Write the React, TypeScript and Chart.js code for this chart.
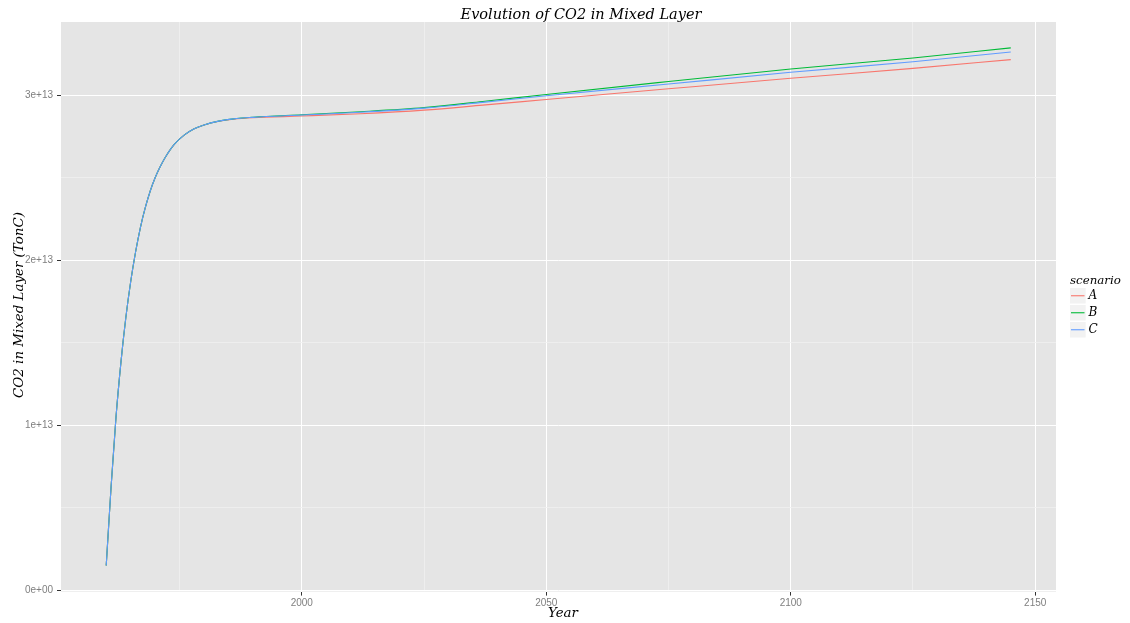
import React, { useEffect, useRef } from "react";
import { Chart, registerables } from "chart.js";

Chart.register(...registerables);

// ---- Data (CO2 in mixed layer, units of 1e13 TonC) ----
const UNIT = 1e13;
const YEARS = [
  1960, 1961, 1962, 1963, 1964, 1965, 1966, 1967, 1968, 1969, 1970, 1971,
  1972, 1974, 1976, 1978, 1980, 1983, 1986, 1990, 2000, 2012, 2025, 2037,
  2050, 2075, 2100, 2125, 2145,
];
const SERIES_A = [
  0.15, 0.63, 1.05, 1.38, 1.65, 1.87, 2.05, 2.2, 2.32, 2.42, 2.5, 2.565,
  2.62, 2.705, 2.76, 2.797, 2.82, 2.842, 2.855, 2.864, 2.874, 2.888, 2.91,
  2.94, 2.974, 3.039, 3.103, 3.163, 3.216,
];
const SERIES_B = [
  0.15, 0.63, 1.05, 1.38, 1.65, 1.87, 2.05, 2.2, 2.32, 2.42, 2.5, 2.565,
  2.62, 2.705, 2.76, 2.797, 2.82, 2.843, 2.857, 2.867, 2.882, 2.9, 2.925,
  2.962, 3.005, 3.083, 3.159, 3.226, 3.287,
];
const SERIES_C = [
  0.15, 0.63, 1.05, 1.38, 1.65, 1.87, 2.05, 2.2, 2.32, 2.42, 2.5, 2.565,
  2.62, 2.705, 2.76, 2.797, 2.82, 2.843, 2.857, 2.866, 2.88, 2.897, 2.922,
  2.957, 2.997, 3.068, 3.139, 3.203, 3.262,
];
const SCENARIOS = ["A", "B", "C"];
const COLORS = ["#F8766D", "#00BA38", "#619CFF"];

const X_TICKS = [1975, 2000, 2025, 2050, 2075, 2100, 2125, 2150];
const X_MAJOR = [2000, 2050, 2100, 2150];
const Y_TICKS = [0, 0.5, 1, 1.5, 2, 2.5, 3];
const Y_MAJOR = [0, 1, 2, 3];
const Y_LABELS = ["0e+00", "1e+13", "2e+13", "3e+13"];

const TITLE = "Evolution of CO2 in Mixed Layer";
const X_TITLE = "Year";
const Y_TITLE = "CO2 in Mixed Layer (TonC)";
const LEGEND_TITLE = "scenario";

const SERIF = "'DejaVu Serif', serif";
const SANS = "'Liberation Sans', Arial, sans-serif";

export default function App() {
  const ref = useRef<HTMLCanvasElement | null>(null);

  useEffect(() => {
    document.body.style.margin = "0";
    const canvas = ref.current;
    if (!canvas) return;

    const datasets = [SERIES_A, SERIES_B, SERIES_C].map((vals, i) => ({
      label: SCENARIOS[i],
      data: YEARS.map((y, j) => ({ x: y, y: vals[j] * UNIT })),
      borderColor: COLORS[i],
      backgroundColor: COLORS[i],
      borderWidth: 1.1,
      pointRadius: 0,
      order: 2 - i,
      cubicInterpolationMode: "monotone" as const,
      fill: false,
    }));

    const panelBg = {
      id: "panelBg",
      beforeDraw(chart: any) {
        const { ctx, chartArea: a } = chart;
        ctx.save();
        ctx.fillStyle = "#E5E5E5";
        ctx.fillRect(a.left, a.top, a.right - a.left, a.bottom - a.top);
        ctx.restore();
      },
    };

    const annotations = {
      id: "annotations",
      afterDraw(chart: any) {
        const { ctx } = chart;
        ctx.save();
        ctx.fillStyle = "#000000";
        ctx.textAlign = "center";
        ctx.textBaseline = "alphabetic";
        ctx.font = `italic 14.5px ${SERIF}`;
        ctx.fillText(TITLE, 581, 19);
        ctx.font = `italic 13.4px ${SERIF}`;
        ctx.fillText(X_TITLE, 563, 617);
        ctx.save();
        ctx.translate(22.7, 305);
        ctx.rotate(-Math.PI / 2);
        ctx.fillText(Y_TITLE, 0, 0);
        ctx.restore();

        // legend
        ctx.textAlign = "left";
        ctx.font = `italic 11.8px ${SERIF}`;
        ctx.fillText(LEGEND_TITLE, 1070, 283.5);
        ctx.font = `italic 12px ${SERIF}`;
        SCENARIOS.forEach((s, i) => {
          const top = 288 + i * 17;
          ctx.fillStyle = "#F2F2F2";
          ctx.fillRect(1070, top, 15.7, 15.5);
          ctx.strokeStyle = COLORS[i];
          ctx.lineWidth = 1.1;
          ctx.beginPath();
          ctx.moveTo(1071, top + 7.75);
          ctx.lineTo(1084.5, top + 7.75);
          ctx.stroke();
          ctx.fillStyle = "#000000";
          ctx.fillText(s, 1088.5, top + 11);
        });
        ctx.restore();
      },
    };

    const chart = new Chart(canvas, {
      type: "line",
      data: { datasets },
      plugins: [panelBg, annotations],
      options: {
        animation: false,
        responsive: false,
        devicePixelRatio: 1,
        layout: { padding: { left: 0, top: 22, right: 74, bottom: 0 } },
        plugins: {
          legend: { display: false },
          tooltip: { enabled: false },
          title: { display: false },
        },
        scales: {
          x: {
            type: "linear",
            min: 1950.75,
            max: 2154.25,
            afterBuildTicks(scale: any) {
              scale.ticks = X_TICKS.map((v) => ({ value: v }));
            },
            afterFit(scale: any) {
              scale.height = 31.4;
            },
            border: { display: false },
            grid: {
              color: (c: any) =>
                X_MAJOR.includes(c.tick?.value) ? "#FFFFFF" : "#F0F0F0",
              lineWidth: (c: any) => (X_MAJOR.includes(c.tick?.value) ? 1 : 0.8),
              tickColor: (c: any) =>
                X_MAJOR.includes(c.tick?.value) ? "#333333" : "rgba(0,0,0,0)",
              tickLength: 4,
              drawTicks: true,
            },
            ticks: {
              autoSkip: false,
              maxRotation: 0,
              padding: 2,
              color: "#7F7F7F",
              font: { family: SANS, size: 10 },
              callback: (v: any) => (X_MAJOR.includes(Number(v)) ? String(v) : ""),
            },
          },
          y: {
            type: "linear",
            min: -0.0079 * UNIT,
            max: 3.4439 * UNIT,
            afterBuildTicks(scale: any) {
              scale.ticks = Y_TICKS.map((v) => ({ value: v * UNIT }));
            },
            afterFit(scale: any) {
              scale.width = 61;
            },
            border: { display: false },
            grid: {
              color: (c: any) =>
                Y_MAJOR.includes((c.tick?.value ?? 0) / UNIT) ? "#FFFFFF" : "#F0F0F0",
              lineWidth: (c: any) =>
                Y_MAJOR.includes((c.tick?.value ?? 0) / UNIT) ? 1 : 0.8,
              tickColor: (c: any) =>
                Y_MAJOR.includes((c.tick?.value ?? 0) / UNIT)
                  ? "#333333"
                  : "rgba(0,0,0,0)",
              tickLength: 4,
              drawTicks: true,
            },
            ticks: {
              autoSkip: false,
              padding: 4,
              color: "#7F7F7F",
              font: { family: SANS, size: 10 },
              callback: (v: any) => {
                const idx = Y_MAJOR.indexOf(Number(v) / UNIT);
                return idx >= 0 ? Y_LABELS[idx] : "";
              },
            },
          },
        },
      },
    });

    return () => chart.destroy();
  }, []);

  return (
    <div style={{ position: "absolute", left: 0, top: 0, width: 1130, height: 623, background: "#FFFFFF" }}>
      <canvas ref={ref} width={1130} height={623} style={{ display: "block" }} />
    </div>
  );
}
